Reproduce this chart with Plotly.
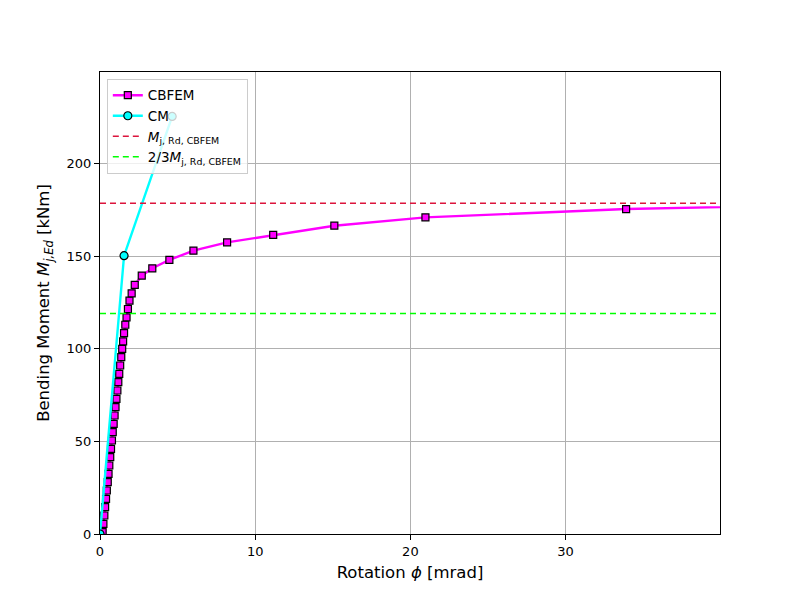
import plotly.graph_objects as go

# CBFEM curve (rotation in mrad, moment in kNm)
cbfem_rot = [0.17, 0.22, 0.28, 0.33, 0.39, 0.44, 0.50, 0.55, 0.60, 0.66,
             0.71, 0.77, 0.82, 0.88, 0.94, 1.00, 1.06, 1.12, 1.18, 1.24,
             1.30, 1.37, 1.43, 1.49, 1.55, 1.63, 1.71, 1.80, 1.90, 2.04,
             2.24, 2.69, 3.37, 4.47, 6.02, 8.19, 11.16, 15.1, 20.97, 33.9,
             52.0]
cbfem_mom = [1.0, 5.5, 10.0, 14.5, 19.0, 23.5, 28.0, 32.5, 37.0, 41.5,
             46.0, 50.5, 55.0, 59.5, 64.0, 68.5, 73.0, 77.5, 82.0, 86.5,
             91.0, 95.5, 100.0, 104.0, 108.5, 113.0, 117.0, 121.5, 126.0, 130.0,
             134.5, 139.5, 143.5, 148.0, 153.0, 157.5, 161.5, 166.5, 171.0, 175.5,
             178.5]

# component method curve
cm_rot = [0.0, 1.55, 4.65]
cm_mom = [0.0, 150.3, 225.5]

m_rd = 178.6
x_range = [0, 39.95]
y_range = [0, 249.5]

fig = go.Figure()

fig.add_trace(go.Scatter(
    x=cbfem_rot, y=cbfem_mom, mode="lines+markers", name="CBFEM",
    line=dict(color="#FF00FF", width=2.4),
    marker=dict(symbol="square", size=7, color="#FF00FF",
                line=dict(color="black", width=1.2)),
))
fig.add_trace(go.Scatter(
    x=cm_rot, y=cm_mom, mode="lines+markers", name="CM",
    line=dict(color="#00FFFF", width=2.4),
    marker=dict(symbol="circle", size=8, color="#00FFFF",
                line=dict(color="black", width=1.2)),
))
fig.add_trace(go.Scatter(
    x=[0, 60], y=[m_rd, m_rd], mode="lines",
    name="<i>M</i><sub>j, Rd, CBFEM</sub>",
    line=dict(color="#DC143C", width=1.5, dash="6px,4px"),
))
fig.add_trace(go.Scatter(
    x=[0, 60], y=[2 / 3 * m_rd, 2 / 3 * m_rd], mode="lines",
    name="2/3<i>M</i><sub>j, Rd, CBFEM</sub>",
    line=dict(color="#00FF00", width=1.5, dash="6px,4px"),
))

axis_style = dict(
    showgrid=True, gridcolor="#b0b0b0", gridwidth=0.8,
    showline=True, linecolor="black", linewidth=1, mirror=True,
    ticks="outside", ticklen=5, tickcolor="black",
    zeroline=False, tickfont=dict(size=13, color="black"),
)

fig.update_layout(
    width=800, height=600,
    margin=dict(l=92, r=88, t=64, b=74),
    paper_bgcolor="white", plot_bgcolor="white",
    font=dict(family="DejaVu Sans", color="black"),
    xaxis=dict(range=x_range, dtick=10,
               title=dict(text="Rotation <i>ϕ</i> [mrad]", font=dict(size=16.5), standoff=8),
               **axis_style),
    yaxis=dict(range=y_range, dtick=50,
               title=dict(text="Bending Moment <i>M</i><sub><i>j,Ed</i></sub> [kNm]",
                          font=dict(size=16.5), standoff=12),
               **axis_style),
    legend=dict(x=0.011, y=0.985, xanchor="left", yanchor="top",
                bgcolor="rgba(255,255,255,0.8)", bordercolor="#cccccc", borderwidth=1,
                font=dict(size=13.5), tracegroupgap=3),
)

fig.write_html("out.html")
